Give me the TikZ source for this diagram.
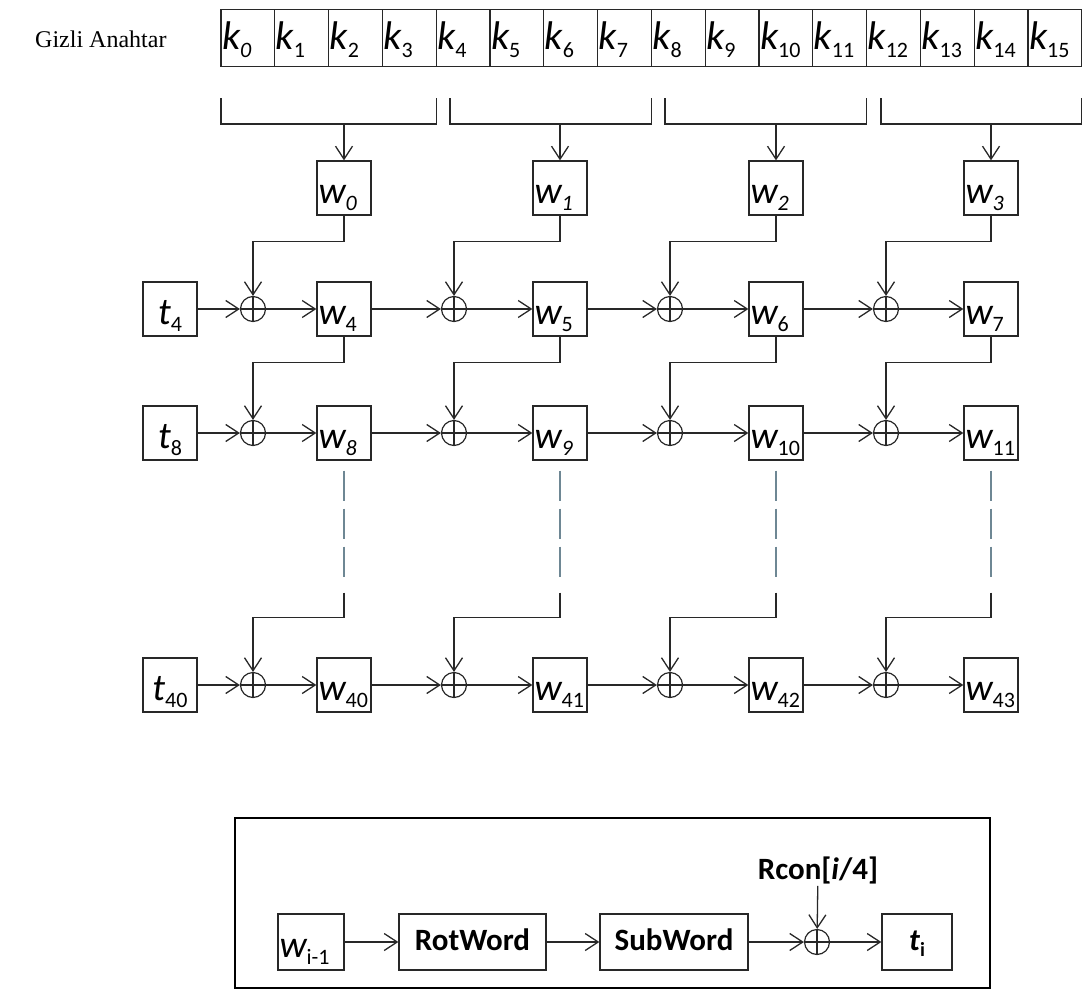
\documentclass[tikz,border=0pt]{standalone}
\usepackage{fontspec}
\usepackage{tikz}
\usetikzlibrary{arrows.meta, calc}
\newfontfamily\carlito{Carlito}
\newfontfamily\serifname{Liberation Serif}
\definecolor{mydark}{RGB}{40,40,40}
\definecolor{mydash}{RGB}{110,135,148}
% letter with a lowered index
\newcommand{\lab}[2]{{\itshape #1}\raisebox{-0.2em}{\fontsize{22}{26}\selectfont #2}}
\tikzset{
  keybox/.style={rectangle, draw=mydark, line width=1.3pt,
    minimum width=53.8pt, minimum height=57pt, text width=51.8pt,
    inner xsep=1pt, inner ysep=0pt, text height=27pt, text depth=3pt,
    align=left, font=\carlito\fontsize{40}{44}\selectfont},
  wbox/.style={rectangle, draw=mydark, line width=1.3pt,
    minimum width=54pt, minimum height=54pt, text width=51pt,
    inner xsep=1.5pt, inner ysep=0pt, text height=30pt, text depth=0pt,
    align=left, font=\carlito\fontsize{38}{42}\selectfont},
  tbox/.style={wbox, align=center},
  opbox/.style={rectangle, draw=mydark, line width=1.3pt,
    minimum height=56pt, inner sep=0pt, text height=21pt, text depth=5pt,
    font=\carlito\bfseries\fontsize{31}{35}\selectfont},
  xor/.style={circle, draw=mydark, line width=1.2pt, minimum size=25pt,
    inner sep=0pt, path picture={
      \draw[mydark, line width=1.1pt]
        (path picture bounding box.north) -- (path picture bounding box.south)
        (path picture bounding box.west) -- (path picture bounding box.east);}},
  arrow/.style={-{Straight Barb[length=13pt, width=17pt]}, line width=1.3pt, color=mydark},
  line/.style={line width=1.3pt, color=mydark},
  dashline/.style={line width=1.1pt, color=mydash, dash pattern=on 30pt off 8pt},
  frame/.style={line width=2.4pt, color=black}
}
\begin{document}
\begin{tikzpicture}[x=1pt, y=-1pt]
    \useasboundingbox (0,0) rectangle (1089,990);

    % Secret key
    \node[anchor=base west, inner sep=0pt, font=\serifname\fontsize{24}{28}\selectfont] (title) at (35,48) {Gizli Anahtar};
    \node[keybox] (k0) at (247.9,38) {\lab{k}{\itshape 0}};
    \foreach \i in {1,...,15}
      \node[keybox] (k\i) at ({247.9+53.8*\i},38) {\lab{k}{\i}};

    % Brackets
    \foreach \j/\l/\r/\s in {0/221/436.2/344, 1/450/651.4/560, 2/665/866.6/776, 3/881/1081.8/991} {
      \draw[line] (\l,98) |- (\r,124) -- (\r,98);
      \coordinate (br\j) at (\s,124);
    }

    % First words
    \node[wbox] (w0) at (344,188) {\lab{w}{\itshape 0}};
    \node[wbox] (w1) at (560,188) {\lab{w}{\itshape 1}};
    \node[wbox] (w2) at (776,188) {\lab{w}{\itshape 2}};
    \node[wbox] (w3) at (991,188) {\lab{w}{\itshape 3}};
    \foreach \j in {0,...,3}
      \draw[arrow] (br\j) -- (w\j);

    % Round constants
    \node[tbox] (t4) at (170,309) {\lab{t}{4}};
    \node[tbox] (t8) at (170,433) {\lab{t}{8}};
    \node[tbox] (t40) at (170,685) {\lab{t}{40}};

    % XOR gates
    \foreach \t/\y in {4/309, 8/433, 40/685}
      \foreach \c/\xx in {0/253, 1/454, 2/670, 3/886} {
        \pgfmathtruncatemacro{\n}{\t+\c}
        \node[xor] (x\n) at (\xx,\y) {};
      }

    % Words
    \node[wbox] (w4) at (344,309) {\lab{w}{4}};
    \node[wbox] (w5) at (560,309) {\lab{w}{5}};
    \node[wbox] (w6) at (776,309) {\lab{w}{6}};
    \node[wbox] (w7) at (991,309) {\lab{w}{7}};
    \node[wbox] (w8) at (344,433) {\lab{w}{\itshape 8}};
    \node[wbox] (w9) at (560,433) {\lab{w}{\itshape 9}};
    \node[wbox] (w10) at (776,433) {\lab{w}{10}};
    \node[wbox] (w11) at (991,433) {\lab{w}{11}};
    \node[wbox] (w40) at (344,685) {\lab{w}{40}};
    \node[wbox] (w41) at (560,685) {\lab{w}{41}};
    \node[wbox] (w42) at (776,685) {\lab{w}{42}};
    \node[wbox] (w43) at (991,685) {\lab{w}{43}};

    % Rows
    \foreach \t in {4, 8, 40} {
      \draw[arrow] (t\t) -- (x\t);
      \foreach \c in {0,...,3} {
        \pgfmathtruncatemacro{\n}{\t+\c}
        \draw[arrow] (x\n) -- (w\n);
      }
      \foreach \c in {1,2,3} {
        \pgfmathtruncatemacro{\n}{\t+\c}
        \pgfmathtruncatemacro{\p}{\n-1}
        \draw[arrow] (w\p) -- (x\n);
      }
    }

    % Feedback from the word above
    \foreach \c in {0,...,3} {
      \pgfmathtruncatemacro{\a}{4+\c}
      \pgfmathtruncatemacro{\b}{8+\c}
      \pgfmathtruncatemacro{\d}{40+\c}
      \draw[arrow] (w\c.south) -- ++(0,26) -| (x\a);
      \draw[arrow] (w\a.south) -- ++(0,26) -| (x\b);
      \draw[dashline] (w\b.south) ++(0,10) -- ++(0,106);
      \draw[arrow] (w\b.south) ++(0,132) -- ++(0,25) -| (x\d);
    }

    % g function
    \draw[frame] (235,818) rectangle (990,988);
    \node[wbox, minimum width=66pt, text width=63pt, minimum height=56pt] (wprev) at (311,942) {\lab{w}{i-1}};
    \node[opbox, minimum width=147pt] (rot) at (472.5,942) {RotWord};
    \node[opbox, minimum width=148pt] (sub) at (674,942) {SubWord};
    \node[xor] (xr) at (817,942) {};
    \node[opbox, minimum width=70pt] (ti) at (917,942) {\textit{t}\raisebox{-0.2em}{\fontsize{20}{22}\selectfont i}};
    \node[font=\carlito\bfseries\fontsize{31}{35}\selectfont, inner sep=2pt] (rcon) at (818,870) {Rcon[\textit{i}/4]};
    \draw[arrow] (wprev) -- (rot);
    \draw[arrow] (rot) -- (sub);
    \draw[arrow] (sub) -- (xr);
    \draw[arrow] (xr) -- (ti);
    \draw[arrow] (rcon) -- (xr);
  \end{tikzpicture}
\end{document}
